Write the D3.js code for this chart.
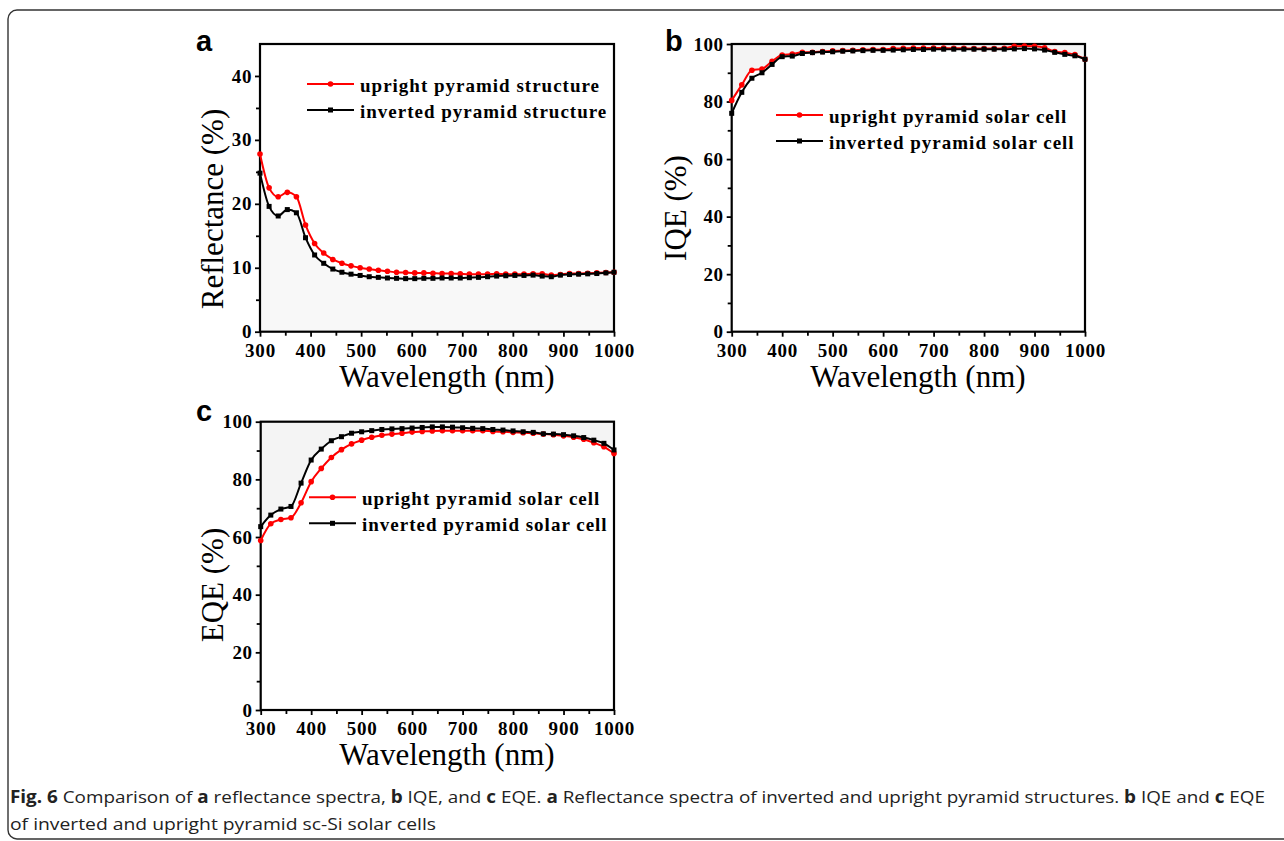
<!DOCTYPE html>
<html>
<head>
<meta charset="utf-8">
<script src="https://cdn.jsdelivr.net/npm/d3@7"></script>
<style>
  html, body { margin: 0; padding: 0; background: #fff; }
  svg { display: block; }
</style>
</head>
<body>
<svg id="chart" width="1284" height="841"></svg>
<script>
// ---------------- DATA ----------------
const wavelengthA = [300,318,336,354,372,390,408,426,444,462,480,498,516,534,552,570,588,606,624,642,660,678,696,714,732,750,768,786,804,822,840,858,876,894,912,930,948,966,984,1000];
const reflUpright = [27.8,22.5,21.1,21.8,21.1,16.7,13.8,12.3,11.3,10.7,10.3,10.0,9.8,9.6,9.45,9.3,9.25,9.2,9.2,9.15,9.1,9.1,9.05,9.0,9.0,9.0,9.05,9.0,9.0,9.0,9.05,9.05,8.85,8.95,9.1,9.1,9.15,9.2,9.25,9.3];
const reflInverted = [24.8,19.6,18.1,19.1,18.6,14.7,12.0,10.7,9.8,9.3,9.0,8.8,8.6,8.5,8.4,8.35,8.3,8.3,8.35,8.35,8.4,8.4,8.4,8.45,8.5,8.6,8.7,8.75,8.8,8.8,8.85,8.7,8.6,8.85,8.95,9.0,9.05,9.1,9.2,9.3];

const wavelengthBC = [300,320,340,360,380,400,420,440,460,480,500,520,540,560,580,600,620,640,660,680,700,720,740,760,780,800,820,840,860,880,900,920,940,960,980,1000];
const iqeUpright = [80.4,85.8,90.9,91.3,94.0,96.2,96.5,97.1,97.1,97.4,97.6,97.7,97.8,98.0,98.1,98.1,98.4,98.5,98.6,98.6,98.6,98.6,98.5,98.5,98.4,98.4,98.4,98.5,99.2,99.3,99.2,98.7,97.4,97.0,96.3,94.7];
const iqeInverted = [75.9,83.2,88.1,90.0,92.9,95.6,95.8,96.7,97.0,97.2,97.3,97.5,97.6,97.7,97.8,97.8,97.9,98.0,98.1,98.1,98.2,98.2,98.2,98.2,98.2,98.2,98.2,98.2,98.3,98.4,98.3,97.9,97.1,96.4,95.9,94.7];

const eqeUpright = [58.8,64.6,66.1,66.7,71.9,79.2,83.8,87.6,90.3,92.3,93.6,94.6,95.3,95.7,96.0,96.4,96.6,96.8,96.9,96.9,96.9,96.9,96.9,96.6,96.5,96.3,96.2,96.0,95.7,95.5,95.1,94.6,93.9,92.7,91.3,89.0];
const eqeInverted = [63.6,67.6,69.7,70.6,78.7,86.7,90.5,93.4,94.8,96.0,96.5,96.9,97.3,97.5,97.6,97.8,98.0,98.2,98.2,98.1,97.9,97.7,97.6,97.3,97.1,96.8,96.5,96.3,95.8,95.7,95.5,95.1,94.5,93.6,92.5,90.2];

const xTicks = [300,400,500,600,700,800,900,1000];
const xMinorTicks = [350,450,550,650,750,850,950];
const reflTicks = [0,10,20,30,40];
const reflMinorTicks = [5,15,25,35];
const qeTicks = [0,20,40,60,80,100];
const qeMinorTicks = [10,30,50,70,90];

const legendA = ["upright pyramid structure","inverted pyramid structure"];
const legendBC = ["upright pyramid solar cell","inverted pyramid solar cell"];
const seriesColors = ["#ff0000","#000000"];

// ---------------- DRAW ----------------
const svg = d3.select("#chart");
const SERIF = "'Liberation Serif','Times New Roman',serif";
const SANS = "'Liberation Sans',Arial,sans-serif";

// frame
svg.append("rect").attr("x",8).attr("y",10).attr("width",1320).attr("height",829)
  .attr("rx",9).attr("fill","none").attr("stroke","#333").attr("stroke-width",1.4);

function panel(opt){
  const x = d3.scaleLinear().domain([300,1000]).range([opt.x0,opt.x1]);
  const y = d3.scaleLinear().domain(opt.yDomain).range([opt.y0,opt.y1]);
  const g = svg.append("g");

  // fill area
  const topSeries = opt.fillSeries;
  if (opt.fillMode === "below") {
    g.append("path").datum(opt.xs.map((d,i)=>[d,topSeries[i]]))
      .attr("fill","#f8f8f8")
      .attr("d", d3.area().x(d=>x(d[0])).y0(y(0)).y1(d=>y(d[1])).curve(d3.curveMonotoneX));
  } else {
    g.append("path").datum(opt.xs.map((d,i)=>[d,topSeries[i]]))
      .attr("fill","#f4f4f4")
      .attr("d", d3.area().x(d=>x(d[0])).y0(y(opt.yDomain[1])).y1(d=>y(d[1])).curve(d3.curveMonotoneX));
  }

  // axes
  const fmt = d3.format("d");
  const xAx = d3.axisBottom(x).tickValues(xTicks).tickFormat(fmt).tickSize(5).tickSizeOuter(0).tickPadding(4);
  const xMin = d3.axisBottom(x).tickValues(xMinorTicks).tickSize(4).tickFormat("").tickSizeOuter(0);
  const yAx = d3.axisLeft(y).tickValues(opt.yTicks).tickFormat(fmt).tickSize(5).tickSizeOuter(0).tickPadding(3);
  const yMin = d3.axisLeft(y).tickValues(opt.yMinor).tickSize(4).tickFormat("").tickSizeOuter(0);

  const gx = g.append("g").attr("transform",`translate(0,${opt.y0})`).call(xAx);
  g.append("g").attr("transform",`translate(0,${opt.y0})`).call(xMin);
  const gy = g.append("g").attr("transform",`translate(${opt.x0},0)`).call(yAx);
  g.append("g").attr("transform",`translate(${opt.x0},0)`).call(yMin);
  g.selectAll(".domain").remove();
  g.selectAll(".tick line").attr("stroke","#000").attr("stroke-width",1.8);
  gx.selectAll(".tick text").attr("font-family",SERIF).attr("font-weight","bold")
    .attr("font-size",19).attr("letter-spacing",0.8).attr("fill","#000").attr("dy","0.71em")
    .attr("y",12);
  gy.selectAll(".tick text").attr("font-family",SERIF).attr("font-weight","bold")
    .attr("font-size",19).attr("letter-spacing",0.6).attr("fill","#000");

  // box
  g.append("rect").attr("x",opt.x0).attr("y",opt.y1).attr("width",opt.x1-opt.x0).attr("height",opt.y0-opt.y1)
    .attr("fill","none").attr("stroke","#000").attr("stroke-width",2.2);

  // series
  const line = d3.line().x(d=>x(d[0])).y(d=>y(d[1])).curve(d3.curveMonotoneX);
  opt.series.forEach((s,i)=>{
    const pts = opt.xs.map((d,j)=>[d,s[j]]);
    const col = seriesColors[i];
    g.append("path").datum(pts).attr("fill","none").attr("stroke",col).attr("stroke-width",2).attr("d",line);
    if (i===0) {
      g.selectAll(null).data(pts).enter().append("circle")
        .attr("cx",d=>x(d[0])).attr("cy",d=>y(d[1])).attr("r",2.8).attr("fill",col);
    } else {
      g.selectAll(null).data(pts).enter().append("rect")
        .attr("x",d=>x(d[0])-2.5).attr("y",d=>y(d[1])-2.5).attr("width",5).attr("height",5).attr("fill",col);
    }
  });

  // legend
  opt.legend.forEach((t,i)=>{
    const ly = opt.legY + i*26;
    const col = seriesColors[i];
    g.append("line").attr("x1",opt.legX).attr("x2",opt.legX+47).attr("y1",ly).attr("y2",ly)
      .attr("stroke",col).attr("stroke-width",2);
    if (i===0) g.append("circle").attr("cx",opt.legX+23.5).attr("cy",ly).attr("r",2.8).attr("fill",col);
    else g.append("rect").attr("x",opt.legX+21).attr("y",ly-2.5).attr("width",5).attr("height",5).attr("fill",col);
    g.append("text").attr("x",opt.legX+53).attr("y",ly+8).text(t)
      .attr("font-family",SERIF).attr("font-weight","bold").attr("font-size",19)
      .attr("letter-spacing",1).attr("fill","#000");
  });

  // axis titles
  g.append("text").attr("x",opt.xTitleX).attr("y",opt.y0+55).attr("text-anchor","middle")
    .attr("font-family",SERIF).attr("font-size",31).attr("fill","#000").text("Wavelength (nm)");
  g.append("text").attr("transform",`translate(${opt.yTitleX},${opt.yTitleY}) rotate(-90)`)
    .attr("text-anchor","middle").attr("font-family",SERIF).attr("font-size",31).attr("fill","#000")
    .text(opt.yTitle);

  // panel letter
  g.append("text").attr("x",opt.letterX).attr("y",opt.letterY).text(opt.letter)
    .attr("font-family",SANS).attr("font-weight","bold").attr("font-size",29).attr("fill","#000");
}

panel({x0:260,x1:614,y0:331.7,y1:44,yDomain:[0,45],yTicks:reflTicks,yMinor:reflMinorTicks,
  xs:wavelengthA,series:[reflUpright,reflInverted],fillSeries:reflInverted,fillMode:"below",
  legend:legendA,legX:307,legY:84,xTitleX:447,yTitle:"Reflectance (%)",yTitleX:223,yTitleY:209,
  letter:"a",letterX:196,letterY:51});

panel({x0:731.7,x1:1085,y0:331.7,y1:44,yDomain:[0,100],yTicks:qeTicks,yMinor:qeMinorTicks,
  xs:wavelengthBC,series:[iqeUpright,iqeInverted],fillSeries:iqeUpright,fillMode:"above",
  legend:legendBC,legX:776,legY:115,xTitleX:918,yTitle:"IQE (%)",yTitleX:686,yTitleY:208,
  letter:"b",letterX:665,letterY:51});

panel({x0:260.7,x1:614,y0:710,y1:421.7,yDomain:[0,100],yTicks:qeTicks,yMinor:qeMinorTicks,
  xs:wavelengthBC,series:[eqeUpright,eqeInverted],fillSeries:eqeInverted,fillMode:"above",
  legend:legendBC,legX:309,legY:497.3,xTitleX:447,yTitle:"EQE (%)",yTitleX:223,yTitleY:585,
  letter:"c",letterX:196,letterY:421});

// caption
const CAP = "'Open Sans','Noto Sans',sans-serif";
const cap1 = [["Fig. 6",true],[" Comparison of ",false],["a",true],[" reflectance spectra, ",false],["b",true],
  [" IQE, and ",false],["c",true],[" EQE. ",false],["a",true],[" Reflectance spectra of inverted and upright pyramid structures. ",false],
  ["b",true],[" IQE and ",false],["c",true],[" EQE",false]];
const t1 = svg.append("text").attr("x",10).attr("y",803).attr("font-family",CAP).attr("font-size",17).attr("fill","#222");
cap1.forEach(p=>t1.append("tspan").attr("font-weight",p[1]?"bold":"normal").text(p[0]));
t1.attr("textLength",1255).attr("lengthAdjust","spacingAndGlyphs");
const t2 = svg.append("text").attr("x",10).attr("y",830).attr("font-family",CAP).attr("font-size",17).attr("fill","#222")
  .text("of inverted and upright pyramid sc-Si solar cells");
t2.attr("textLength",426).attr("lengthAdjust","spacingAndGlyphs");
</script>
</body>
</html>
